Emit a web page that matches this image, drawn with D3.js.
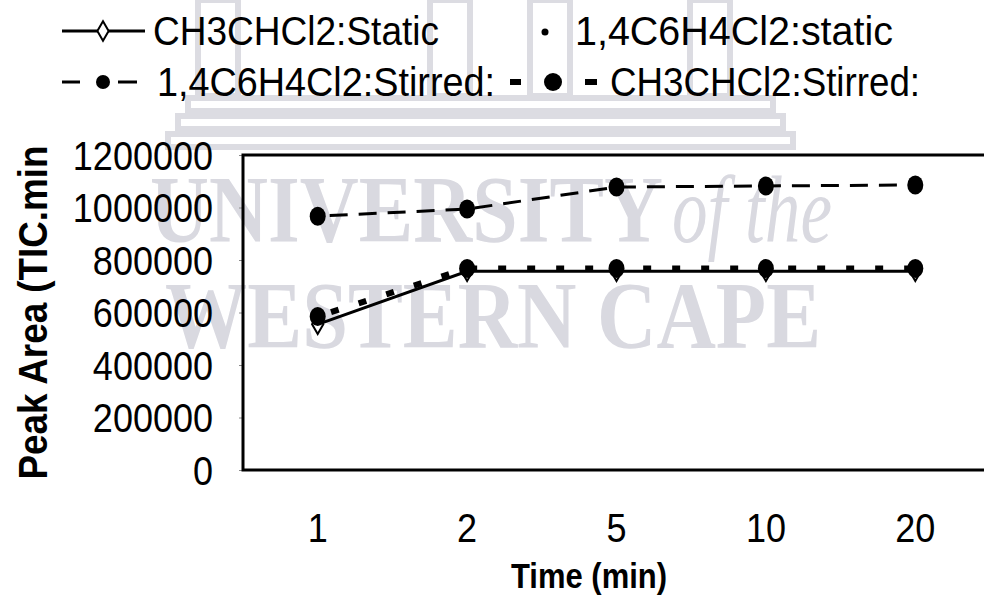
<!DOCTYPE html>
<html>
<head>
<meta charset="utf-8">
<script src="https://cdn.jsdelivr.net/npm/d3@7/dist/d3.min.js"></script>
<style>
  html, body { margin: 0; padding: 0; background: #fff; }
  svg { display: block; }
  text { font-family: "Liberation Sans", Arial, sans-serif; fill: #000; }
  text.wm { font-family: "Liberation Serif", "DejaVu Serif", serif; font-size: 96px; font-weight: bold; fill: #d9d9e0; }
</style>
</head>
<body>
<svg id="chart" width="984" height="595"></svg>
<script>
// Sampling times (min) and peak areas per series
const times = ["1", "2", "5", "10", "20"];
const ch3chcl2Static = [555000, 757000, 757000, 757000, 757000];
const dcbStatic = [585000, 765000, 765000, 765000, 765000];
const dcbStirred = [967000, 994000, 1078000, 1082000, 1086000];
const ch3chcl2Stirred = [585000, 768000, 768000, 768000, 768000];
const yTicks = [0, 200000, 400000, 600000, 800000, 1000000, 1200000];

const svg = d3.select("#chart");
const plot = { left: 243, right: 990, top: 155, bottom: 470 };

const x = d3.scaleBand().domain(times).range([plot.left, plot.right]);
const y = d3.scaleLinear().domain([0, 1200000]).range([plot.bottom, plot.top]);
const cx = t => x(t) + x.bandwidth() / 2;

// Narrow, tall lettering: squeeze each label's advance width
const narrow = (sel, k) => sel.each(function () {
  const n = this.getComputedTextLength();
  d3.select(this).attr("textLength", n * k).attr("lengthAdjust", "spacingAndGlyphs");
});

// Faint thesis watermark behind the chart
const bld = svg.append("g").attr("fill", "none").attr("stroke", "#dcdce2").attr("stroke-width", 6);
[[198, 0, 40, 96], [430, 0, 40, 96], [530, 0, 40, 96], [690, 0, 40, 96]].forEach(r =>
  bld.append("rect").attr("x", r[0]).attr("y", r[1]).attr("width", r[2]).attr("height", r[3]));
[[188, 98, 585, 13], [178, 116, 605, 13], [168, 134, 625, 13]].forEach(r =>
  bld.append("rect").attr("x", r[0]).attr("y", r[1]).attr("width", r[2]).attr("height", r[3]));
const wm = svg.append("g");
wm.append("text").attr("class", "wm").attr("x", 150).attr("y", 242)
  .attr("textLength", 513).attr("lengthAdjust", "spacingAndGlyphs").text("UNIVERSITY");
wm.append("text").attr("class", "wm").attr("x", 672).attr("y", 242).style("font-style", "italic")
  .style("font-weight", "normal")
  .attr("textLength", 160).attr("lengthAdjust", "spacingAndGlyphs").text("of the");
wm.append("text").attr("class", "wm").attr("x", 165).attr("y", 348)
  .attr("textLength", 656).attr("lengthAdjust", "spacingAndGlyphs").text("WESTERN CAPE");

// Y axis tick labels
const yAxis = d3.axisLeft(y).tickValues(yTicks).tickSize(4).tickPadding(26).tickFormat(d3.format("d"));
const gy = svg.append("g").attr("transform", `translate(${plot.left},0)`).call(yAxis);
gy.select(".domain").remove();
gy.selectAll(".tick line").attr("stroke", "#888").attr("stroke-width", 1);
gy.selectAll(".tick text").style("font-size", "40px").attr("dy", "0.36em");
narrow(gy.selectAll(".tick text"), 0.9);

// X axis tick labels
const xAxis = d3.axisBottom(x).tickSize(0).tickPadding(58);
const gx = svg.append("g").attr("transform", `translate(0,${plot.bottom})`).call(xAxis);
gx.select(".domain").remove();
gx.selectAll(".tick text").style("font-size", "40px").attr("dy", "0.36em");
narrow(gx.selectAll(".tick text"), 0.9);

// Plot frame
svg.append("rect")
  .attr("x", plot.left).attr("y", plot.top)
  .attr("width", plot.right - plot.left).attr("height", plot.bottom - plot.top)
  .attr("fill", "none").attr("stroke", "#000").attr("stroke-width", 3);

// Axis titles
svg.append("text")
  .attr("transform", `translate(47,${(plot.top + plot.bottom) / 2}) rotate(-90)`)
  .attr("text-anchor", "middle").style("font-size", "40px").style("font-weight", "bold")
  .attr("textLength", 334).attr("lengthAdjust", "spacingAndGlyphs")
  .text("Peak Area (TIC.min");
svg.append("text")
  .attr("x", 589).attr("y", 588)
  .attr("text-anchor", "middle").style("font-size", "35px").style("font-weight", "bold")
  .attr("textLength", 156).attr("lengthAdjust", "spacingAndGlyphs")
  .text("Time (min)");

const line = d3.line().x((d, i) => cx(times[i])).y(d => y(d));

// CH3CHCl2 static: solid line with open diamonds
svg.append("path").datum(ch3chcl2Static).attr("d", line)
  .attr("fill", "none").attr("stroke", "#000").attr("stroke-width", 3);
const diamond = d3.symbol().type(d3.symbolDiamond).size(110);
svg.append("g").selectAll("path").data(ch3chcl2Static).join("path")
  .attr("d", diamond).attr("transform", (d, i) => `translate(${cx(times[i])},${y(d)})`)
  .attr("fill", "#fff").attr("stroke", "#000").attr("stroke-width", 2);

// CH3CHCl2 stirred: short heavy dashes with filled circles
svg.append("path").datum(ch3chcl2Stirred).attr("d", line)
  .attr("fill", "none").attr("stroke", "#000").attr("stroke-width", 6)
  .attr("stroke-dasharray", "8 21").attr("stroke-dashoffset", -14);

// 1,4C6H4Cl2 stirred: long dashes with filled circles
svg.append("path").datum(dcbStirred).attr("d", line)
  .attr("fill", "none").attr("stroke", "#000").attr("stroke-width", 3)
  .attr("stroke-dasharray", "18 11").attr("stroke-dashoffset", -12);

// Markers
const ell = (data, rx, ry) => svg.append("g").selectAll("ellipse").data(data).join("ellipse")
  .attr("cx", (d, i) => cx(times[i])).attr("cy", d => y(d))
  .attr("rx", rx).attr("ry", ry).attr("fill", "#000");
ell(ch3chcl2Stirred, 8, 9.5);
ell(dcbStirred, 8, 9.5);
ell(dcbStatic, 3.5, 3.5);

// Legend
const lg = svg.append("g");
const row1 = 31, row2 = 82;
const legText = (xx, yy, label, len) => lg.append("text").attr("x", xx).attr("y", yy)
  .attr("dy", "0.36em").style("font-size", "40px")
  .attr("textLength", len).attr("lengthAdjust", "spacingAndGlyphs").text(label);

lg.append("line").attr("x1", 62).attr("x2", 145).attr("y1", row1).attr("y2", row1)
  .attr("stroke", "#000").attr("stroke-width", 3);
lg.append("path").attr("d", diamond).attr("transform", `translate(103,${row1})`)
  .attr("fill", "#fff").attr("stroke", "#000").attr("stroke-width", 2);
legText(153, row1, "CH3CHCl2:Static", 286);

lg.append("circle").attr("cx", 545).attr("cy", row1 + 1).attr("r", 3.5).attr("fill", "#000");
legText(575, row1, "1,4C6H4Cl2:static", 318);

lg.append("line").attr("x1", 62).attr("x2", 80).attr("y1", row2).attr("y2", row2)
  .attr("stroke", "#000").attr("stroke-width", 3);
lg.append("line").attr("x1", 118).attr("x2", 137).attr("y1", row2).attr("y2", row2)
  .attr("stroke", "#000").attr("stroke-width", 3);
lg.append("circle").attr("cx", 103).attr("cy", row2).attr("r", 7).attr("fill", "#000");
legText(157, row2, "1,4C6H4Cl2:Stirred:", 338);

lg.append("rect").attr("x", 510).attr("y", row2 - 3).attr("width", 11).attr("height", 6).attr("fill", "#000");
lg.append("rect").attr("x", 585).attr("y", row2 - 3).attr("width", 12).attr("height", 6).attr("fill", "#000");
lg.append("circle").attr("cx", 553).attr("cy", row2).attr("r", 9).attr("fill", "#000");
legText(610, row2, "CH3CHCl2:Stirred:", 310);
</script>
</body>
</html>
